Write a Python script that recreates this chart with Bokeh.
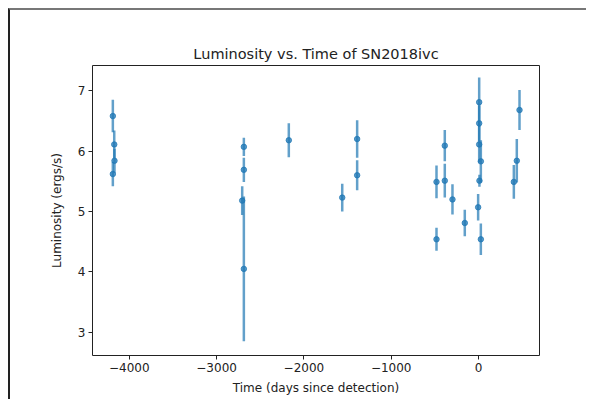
from bokeh.plotting import figure
from bokeh.models import Range1d, FixedTicker, Label, ColumnDataSource
from bokeh.layouts import column
from bokeh.embed import file_html
from bokeh.resources import INLINE

# Data (luminosity in units of 1e41 ergs/s)
days = [-4189, -4173, -4170, -4189,
        -2688, -2688, -2707, -2688,
        -2173, -1561, -1390, -1390,
        -481, -481, -386, -386, -298, -157,
        -4, 8, 8, 8, 27, 11, 27,
        405, 439, 470]
lum = [6.58, 6.11, 5.84, 5.62,
       6.07, 5.69, 5.18, 4.05,
       6.18, 5.23, 6.20, 5.60,
       5.49, 4.54, 6.09, 5.51, 5.20, 4.81,
       5.07, 6.81, 6.46, 6.11, 5.83, 5.51, 4.54,
       5.49, 5.84, 6.68]
lum_err = [0.27, 0.23, 0.20, 0.20,
           0.15, 0.20, 0.24, 1.20,
           0.28, 0.23, 0.31, 0.25,
           0.27, 0.19, 0.26, 0.28, 0.25, 0.22,
           0.22, 0.41, 0.30, 0.30, 0.35, 0.10, 0.26,
           0.28, 0.36, 0.33]

x_ticks = [-4000, -3000, -2000, -1000, 0]
x_tick_labels = ["\u22124000", "\u22123000", "\u22122000", "\u22121000", "0"]
y_ticks = [3, 4, 5, 6, 7]
y_tick_labels = ["3", "4", "5", "6", "7"]

lo = [l - e for l, e in zip(lum, lum_err)]
hi = [l + e for l, e in zip(lum, lum_err)]
src = ColumnDataSource(dict(x=days, y=lum, lo=lo, hi=hi))

FONT = "DejaVu Sans"
BLUE = "#1f77b4"

p = figure(width=576, height=389, output_backend="svg", toolbar_location=None,
           x_range=Range1d(-4422, 699), y_range=Range1d(2.616, 7.417),
           min_border_left=82, min_border_right=47, min_border_top=55,
           min_border_bottom=44)

p.title.text = "Luminosity vs. Time of SN2018ivc"
p.title.align = "center"
p.title.text_font = FONT
p.title.text_font_size = "14.5px"
p.title.text_font_style = "normal"
p.title.text_color = "#222222"
p.title.standoff = 7

p.segment(x0="x", y0="lo", x1="x", y1="hi", source=src, line_color=BLUE,
          line_width=2.5, line_alpha=0.7)
p.scatter(x="x", y="y", source=src, size=5.5, fill_color=BLUE, line_color=BLUE,
          fill_alpha=0.75, line_alpha=0.75)

p.xgrid.visible = False
p.ygrid.visible = False
p.outline_line_color = "#222222"
p.outline_line_width = 1
p.outline_line_alpha = 1
p.background_fill_color = "white"
p.border_fill_color = "white"

for ax in (p.xaxis[0], p.yaxis[0]):
    ax.axis_line_color = None
    ax.major_tick_out = 4
    ax.major_tick_in = 0
    ax.major_tick_line_color = "#222222"
    ax.minor_tick_line_color = None
    ax.major_label_text_font = FONT
    ax.major_label_text_font_size = "12px"
    ax.major_label_text_color = "#222222"
    ax.axis_label_text_font = FONT
    ax.axis_label_text_font_size = "12px"
    ax.axis_label_text_font_style = "normal"
    ax.axis_label_text_color = "#222222"
    ax.major_label_standoff = 3

p.xaxis[0].ticker = FixedTicker(ticks=x_ticks)
p.xaxis[0].major_label_overrides = dict(zip(x_ticks, x_tick_labels))
p.yaxis[0].ticker = FixedTicker(ticks=y_ticks)
p.yaxis[0].major_label_overrides = dict(zip(y_ticks, y_tick_labels))
p.xaxis[0].axis_label = "Time (days since detection)"
p.yaxis[0].axis_label = "Luminosity (ergs/s)"
p.xaxis[0].axis_label_standoff = 6
p.yaxis[0].axis_label_standoff = 11

p.add_layout(Label(x=0, y=292, x_units="screen", y_units="screen", text="1e41",
                   text_font=FONT, text_font_size="12px", text_color="#222222",
                   text_align="left", text_baseline="bottom"))

layout = column(p, margin=(8, 0, 0, 8),
                styles={"border-top": "2px solid #777777",
                        "border-left": "2px solid #222222"})

open("out.html", "w").write(file_html(layout, INLINE))
